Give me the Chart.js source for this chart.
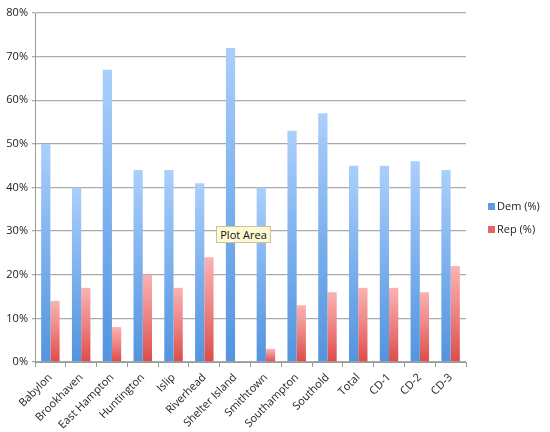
<!DOCTYPE html>
<html>
<head>
<meta charset="utf-8">
<script src="https://cdn.jsdelivr.net/npm/chart.js@4.4.0/dist/chart.umd.min.js"></script>
<style>
    body { margin: 0; background: #fff; }
    #wrap { position: relative; width: 550px; height: 432px; }
    #legend { position: absolute; left: 488px; top: 198px; font: 11px "Open Sans", sans-serif; color: #222; }
    #legend div { height: 23px; white-space: nowrap; }
    #legend span { display: inline-block; width: 7px; height: 7px; margin-right: 2px; vertical-align: 0px; }
    #tip { position: absolute; left: 216px; top: 226px; width: 55px; height: 17px; background: #fdf9d2;
           border: 1px solid #c9c49a; font: 11px "Open Sans", sans-serif; color: #111;
           line-height: 15px; text-align: center; box-sizing: border-box; }
</style>
</head>
<body>
<div id="wrap">
    <canvas id="chart" width="550" height="432"></canvas>
    <div id="legend">
        <div><span style="background:#5d9be2"></span>Dem (%)</div>
        <div><span style="background:#e76663"></span>Rep (%)</div>
    </div>
    <div id="tip">Plot Area</div>
</div>
<script>
const categories = ['Babylon', 'Brookhaven', 'East Hampton', 'Huntington', 'Islip', 'Riverhead',
    'Shelter Island', 'Smithtown', 'Southampton', 'Southold', 'Total', 'CD-1', 'CD-2', 'CD-3'];
const demPct = [50, 40, 67, 44, 44, 41, 72, 40, 53, 57, 45, 45, 46, 44];
const repPct = [14, 17, 8, 20, 17, 24, 0, 3, 13, 16, 17, 17, 16, 22];
const yTicks = [0, 10, 20, 30, 40, 50, 60, 70, 80];

// each bar gets its own light-to-dark fade, like the Excel style
function fade(light, mid, dark) {
    return (ctx) => {
        const chart = ctx.chart;
        if (!chart.chartArea || !ctx.raw) return dark;
        const y = chart.scales.y;
        const top = y.getPixelForValue(ctx.raw);
        const base = y.getPixelForValue(0);
        const g = chart.ctx.createLinearGradient(0, top, 0, base);
        g.addColorStop(0, light);
        g.addColorStop(0.5, mid);
        g.addColorStop(1, dark);
        return g;
    };
}

Chart.defaults.font.family = '"Open Sans", sans-serif';
Chart.defaults.font.size = 11;
Chart.defaults.color = '#222';

new Chart(document.getElementById('chart'), {
    type: 'bar',
    data: {
        labels: categories,
        datasets: [
            { label: 'Dem (%)', data: demPct, backgroundColor: fade('#abcffb', '#7cb0ed', '#5394de'), borderWidth: 0 },
            { label: 'Rep (%)', data: repPct, backgroundColor: fade('#fbb2b2', '#ee8282', '#dc4c49'), borderWidth: 0 }
        ]
    },
    options: {
        responsive: false,
        animation: false,
        layout: { padding: { top: 13, right: 84, left: 4 } },
        datasets: { bar: { categoryPercentage: 0.6, barPercentage: 1 } },
        plugins: { legend: { display: false }, tooltip: { enabled: false } },
        scales: {
            x: {
                grid: { drawOnChartArea: false, drawTicks: true, tickLength: 5, color: '#999' },
                border: { color: '#999' },
                ticks: { minRotation: 45, maxRotation: 45, autoSkip: false, padding: 4 },
                afterFit: (s) => { s.height = 70; }
            },
            y: {
                min: 0, max: 80,
                afterBuildTicks: (s) => { s.ticks = yTicks.map(v => ({ value: v })); },
                grid: { color: '#aaa', lineWidth: 1.3, tickLength: 3 },
                border: { color: '#999' },
                ticks: { callback: (v) => v + '%', padding: 4 },
                afterFit: (s) => { s.width = 31; }
            }
        }
    }
});
</script>
</body>
</html>
